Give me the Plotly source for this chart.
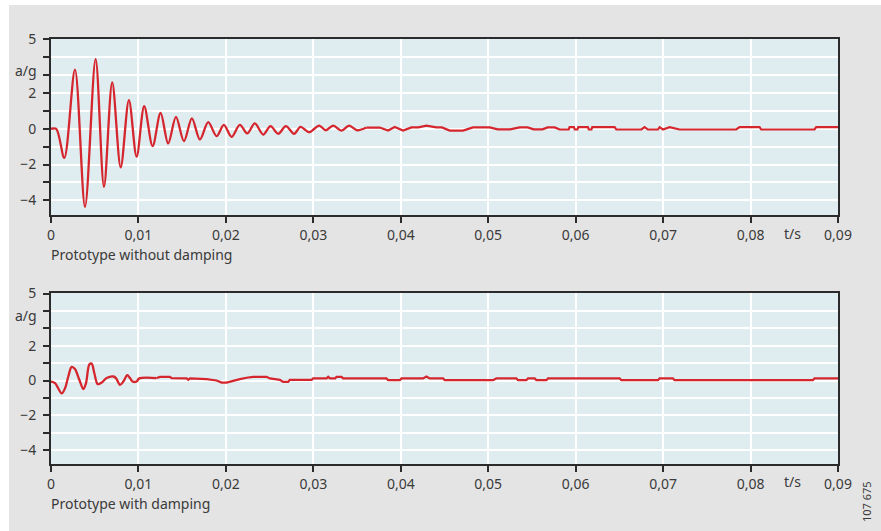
import plotly.graph_objects as go

# ---------------- data ----------------
t_top = [
    0, 0.0006, 0.00152, 0.00274, 0.00389, 0.0051, 0.00606, 0.0070, 0.00797, 0.00891,
    0.00979, 0.01066, 0.01162, 0.01253, 0.0134, 0.01429, 0.0152, 0.01611, 0.01703, 0.01798,
    0.01894, 0.01977, 0.02065, 0.0216, 0.02244, 0.02331, 0.02427, 0.0251, 0.02598, 0.02686,
    0.0278, 0.02853, 0.02952, 0.03066, 0.03143, 0.03227, 0.03322, 0.03409, 0.035, 0.03608,
    0.0376, 0.03855, 0.03931, 0.04026, 0.04122, 0.042, 0.04293, 0.04408, 0.0447, 0.0456,
    0.04712, 0.04826, 0.05017, 0.0511, 0.0525, 0.0536, 0.0545, 0.0552, 0.0562, 0.0568,
    0.0576, 0.05817, 0.0592, 0.0593, 0.0598, 0.0599, 0.0602, 0.0603, 0.0614, 0.0615,
    0.0618, 0.0619, 0.06446, 0.06465, 0.06751, 0.06789, 0.06826, 0.06941, 0.0696, 0.06998,
    0.07074, 0.07189, 0.07836, 0.07874, 0.08103, 0.08122, 0.08731, 0.08751, 0.09,
]
a_top = [
    0, 0, -1.62, 3.31, -4.36, 3.9, -3.24, 2.6, -2.15, 1.6,
    -1.56, 1.26, -0.97, 0.89, -0.82, 0.67, -0.69, 0.58, -0.6, 0.37,
    -0.41, 0.22, -0.45, 0.22, -0.26, 0.3, -0.32, 0.15, -0.28, 0.15,
    -0.28, 0.11, -0.19, 0.18, -0.08, 0.18, -0.1, 0.18, -0.08, 0.07,
    0.07, -0.1, 0.1, -0.1, 0.08, 0.08, 0.18, 0.08, 0.08, -0.1,
    -0.1, 0.08, 0.08, -0.03, -0.03, 0.08, 0.08, -0.03, -0.03, 0.08,
    0.08, -0.04, -0.04, 0.09, 0.09, -0.04, -0.04, 0.09, 0.09, -0.04,
    -0.04, 0.09, 0.09, -0.04, -0.04, 0.09, -0.04, -0.04, 0.09, -0.04,
    0.09, -0.04, -0.04, 0.09, 0.09, -0.04, -0.04, 0.09, 0.09,
]

t_bot = [
    0, 0.00046, 0.00122, 0.0016, 0.00198, 0.00236, 0.00274, 0.00324, 0.00369, 0.004,
    0.00438, 0.00465, 0.00495, 0.00534, 0.0058, 0.00636, 0.00712, 0.00743, 0.00789, 0.00827,
    0.00872, 0.00903, 0.00933, 0.00979, 0.01009, 0.01208, 0.01246, 0.0136, 0.01379, 0.01551,
    0.0157, 0.01589, 0.01665, 0.01722, 0.0178, 0.01894, 0.01951, 0.02008, 0.02084, 0.0216,
    0.02236, 0.02312, 0.02465, 0.02503, 0.02617, 0.02655, 0.02712, 0.02731, 0.0298, 0.02998,
    0.03151, 0.0317, 0.0319, 0.0325, 0.03265, 0.03322, 0.03341, 0.03836, 0.03855, 0.03989,
    0.04008, 0.04255, 0.04293, 0.04331, 0.04484, 0.04503, 0.05055, 0.05093, 0.05322, 0.05341,
    0.05436, 0.05455, 0.05531, 0.05551, 0.05665, 0.05684, 0.06503, 0.06522, 0.06941, 0.0696,
    0.07112, 0.07131, 0.08712, 0.08731, 0.09,
]
a_bot = [
    -0.06, -0.15, -0.74, -0.45, 0.23, 0.78, 0.66, 0.04, -0.49, -0.16,
    0.92, 0.97, 0.43, -0.21, -0.12, 0.14, 0.23, 0.14, -0.25, -0.06,
    0.31, 0.14, -0.06, -0.06, 0.12, 0.14, 0.21, 0.21, 0.14, 0.12,
    0.04, 0.12, 0.12, 0.12, 0.08, 0, -0.12, -0.12, 0, 0.08,
    0.16, 0.21, 0.21, 0.12, 0.04, -0.08, -0.08, 0.04, 0.04, 0.12,
    0.12, 0.21, 0.12, 0.12, 0.21, 0.21, 0.12, 0.12, 0.02, 0.02,
    0.12, 0.12, 0.23, 0.12, 0.12, 0.02, 0.02, 0.12, 0.12, 0.02,
    0.02, 0.12, 0.12, 0.02, 0.02, 0.12, 0.12, 0.02, 0.02, 0.12,
    0.12, 0.02, 0.02, 0.12, 0.12,
]

x_tickvals = [0, 0.01, 0.02, 0.03, 0.04, 0.05, 0.06, 0.07, 0.08, 0.09]
x_ticktext = ["0", "0,01", "0,02", "0,03", "0,04", "0,05", "0,06", "0,07", "0,08", "0,09"]
y_tickvals = [-4, -3, -2, -1, 0, 1, 2, 3, 4, 5]
y_ticktext = ["\u22124", "", "\u22122", "", "0", "", "2", "", "", "5"]

panel_titles = ["Prototype without damping", "Prototype with damping"]
y_label = "a/g"
x_label = "t/s"
code_label = "107 675"

# split points: oscillating part drawn smooth, stepped tail drawn straight
split_top = 39   # index of t = 0.03608
split_bot = 25   # index of t = 0.01208

# ---------------- figure ----------------
W, H = 881, 531
FONT = "Noto Sans"
TXT = "#3a3a3a"
RED = "#d5262e"

fig = go.Figure()
for tx, ax, sp, xa, ya in [(t_top, a_top, split_top, "x", "y"), (t_bot, a_bot, split_bot, "x2", "y2")]:
    fig.add_trace(go.Scatter(x=tx[:sp + 1], y=ax[:sp + 1], mode="lines",
                             line=dict(color=RED, width=2.3, shape="spline", smoothing=0.9),
                             xaxis=xa, yaxis=ya, showlegend=False, hoverinfo="skip"))
    fig.add_trace(go.Scatter(x=tx[sp:], y=ax[sp:], mode="lines",
                             line=dict(color=RED, width=2.2),
                             xaxis=xa, yaxis=ya, showlegend=False, hoverinfo="skip"))

xdom = [51 / W, 838 / W]
ydom_top = [1 - 215 / H, 1 - 38.5 / H]
ydom_bot = [1 - 464.3 / H, 1 - 292.7 / H]

def xaxis(anchor):
    return dict(domain=xdom, range=[0, 0.09], anchor=anchor, automargin=False,
                tickmode="array", tickvals=x_tickvals, ticktext=x_ticktext,
                ticks="outside", ticklen=6, tickwidth=1.5, tickcolor="#2b2b2b",
                showgrid=True, gridcolor="white", gridwidth=1.5, zeroline=False,
                showline=True, linecolor="#2b2b2b", linewidth=2, mirror=True,
                tickfont=dict(family=FONT, size=14, color=TXT))

def yaxis(anchor, dom):
    return dict(domain=dom, range=[-4.82, 5.05], anchor=anchor, automargin=False,
                tickmode="array", tickvals=y_tickvals, ticktext=y_ticktext,
                ticks="outside", ticklen=6, tickwidth=1.5, tickcolor="#2b2b2b",
                ticklabelstandoff=4,
                showgrid=True, gridcolor="white", gridwidth=1.5, zeroline=False,
                showline=True, linecolor="#2b2b2b", linewidth=2, mirror=True,
                tickfont=dict(family=FONT, size=14, color=TXT))

annots = []
for ya, yl, yt, ytitle in [(70, 233, 254, panel_titles[0]), (315, 481, 503, panel_titles[1])]:
    annots.append(dict(text=y_label, x=26 / W, y=1 - ya / H, xref="paper", yref="paper",
                       showarrow=False, xanchor="center", yanchor="middle",
                       font=dict(family=FONT, size=14, color=TXT)))
    annots.append(dict(text=x_label, x=792 / W, y=1 - yl / H, xref="paper", yref="paper",
                       showarrow=False, xanchor="center", yanchor="middle",
                       font=dict(family=FONT, size=14, color=TXT)))
    annots.append(dict(text=ytitle, x=49 / W, y=1 - yt / H, xref="paper", yref="paper",
                       showarrow=False, xanchor="left", yanchor="middle",
                       font=dict(family=FONT, size=14, color=TXT)))
annots.append(dict(text=code_label, x=866 / W, y=1 - 502 / H, xref="paper", yref="paper",
                   showarrow=False, xanchor="center", yanchor="middle", textangle=-90,
                   font=dict(family=FONT, size=11, color=TXT)))

shapes = [
    dict(type="rect", xref="paper", yref="paper", x0=0, x1=1, y0=1 - 5 / H, y1=1,
         fillcolor="white", line=dict(width=0), layer="above"),
    dict(type="rect", xref="paper", yref="paper", x0=0, x1=9 / W, y0=0, y1=1,
         fillcolor="white", line=dict(width=0), layer="above"),
]

fig.update_layout(
    width=W, height=H, autosize=False, margin=dict(l=0, r=0, t=0, b=0, pad=0, autoexpand=False),
    paper_bgcolor="#e4e4e4", plot_bgcolor="#dfedf1",
    xaxis=xaxis("y"), yaxis=yaxis("x", ydom_top),
    xaxis2=xaxis("y2"), yaxis2=yaxis("x2", ydom_bot),
    annotations=annots, shapes=shapes, showlegend=False,
    font=dict(family=FONT, size=14, color=TXT),
)

fig.write_html(
    "out.html",
    config={"responsive": False, "displayModeBar": False},
    post_script="document.body.style.margin='0px';document.body.style.padding='0px';"
                "document.body.style.overflow='hidden';",
)
